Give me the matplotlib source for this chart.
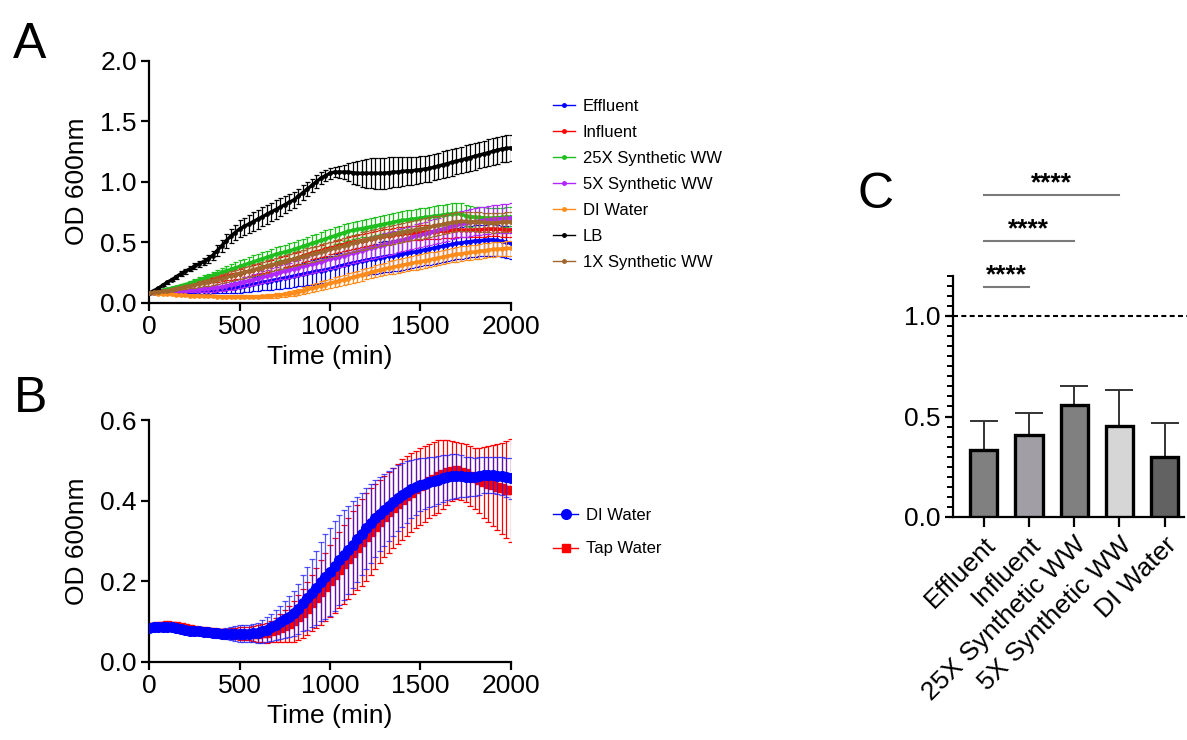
import numpy as np
import matplotlib
matplotlib.use("Agg")
import matplotlib.pyplot as plt
from matplotlib.lines import Line2D
from matplotlib.ticker import MultipleLocator

plt.rcParams['font.family'] = ['Liberation Sans', 'DejaVu Sans']

# ---- panel A / B: growth curves, read every 25 min ----
time_min = np.arange(0, 2001, 25)

lb_mean = [0.080, 0.100, 0.120, 0.145, 0.170, 0.190, 0.215, 0.240, 0.260,
           0.280, 0.300, 0.320, 0.340, 0.360, 0.390, 0.430, 0.470,
           0.510, 0.550, 0.580, 0.610, 0.630, 0.650, 0.670, 0.690,
           0.710, 0.730, 0.750, 0.770, 0.790, 0.810, 0.830, 0.850,
           0.880, 0.910, 0.940, 0.970, 1.000, 1.030, 1.050, 1.070,
           1.080, 1.080, 1.080, 1.080, 1.075, 1.070, 1.070, 1.070,
           1.070, 1.070, 1.070, 1.070, 1.075, 1.080, 1.080, 1.085,
           1.090, 1.090, 1.095, 1.100, 1.105, 1.110, 1.120, 1.130,
           1.140, 1.150, 1.160, 1.170, 1.180, 1.190, 1.200, 1.210,
           1.220, 1.230, 1.240, 1.250, 1.260, 1.270, 1.275, 1.280]
lb_sd = [0.005, 0.006, 0.008, 0.010, 0.012, 0.014, 0.016, 0.018, 0.020,
         0.022, 0.025, 0.028, 0.030, 0.035, 0.040, 0.045, 0.050,
         0.055, 0.060, 0.065, 0.070, 0.072, 0.075, 0.077, 0.080,
         0.080, 0.080, 0.078, 0.075, 0.072, 0.070, 0.067, 0.065,
         0.062, 0.060, 0.057, 0.055, 0.052, 0.050, 0.047, 0.045,
         0.045, 0.050, 0.060, 0.075, 0.090, 0.100, 0.110, 0.120,
         0.125, 0.130, 0.130, 0.130, 0.128, 0.125, 0.123, 0.120,
         0.118, 0.115, 0.113, 0.110, 0.110, 0.110, 0.110, 0.110,
         0.110, 0.110, 0.110, 0.110, 0.110, 0.110, 0.110, 0.110,
         0.110, 0.110, 0.110, 0.110, 0.110, 0.110, 0.110, 0.110]

effluent_mean = [0.080, 0.081, 0.082, 0.084, 0.085, 0.086, 0.087, 0.088, 0.090,
                 0.091, 0.092, 0.093, 0.095, 0.098, 0.102, 0.106, 0.110,
                 0.115, 0.120, 0.125, 0.130, 0.137, 0.145, 0.152, 0.160,
                 0.168, 0.175, 0.183, 0.190, 0.198, 0.205, 0.212, 0.220,
                 0.228, 0.235, 0.243, 0.250, 0.258, 0.265, 0.272, 0.280,
                 0.290, 0.300, 0.310, 0.320, 0.328, 0.335, 0.343, 0.350,
                 0.358, 0.365, 0.372, 0.380, 0.385, 0.390, 0.395, 0.400,
                 0.408, 0.415, 0.422, 0.430, 0.438, 0.445, 0.452, 0.460,
                 0.468, 0.475, 0.482, 0.490, 0.495, 0.500, 0.505, 0.510,
                 0.513, 0.515, 0.518, 0.520, 0.515, 0.508, 0.500, 0.490]
effluent_sd = [0.005, 0.006, 0.006, 0.007, 0.008, 0.008, 0.009, 0.009, 0.010,
               0.012, 0.015, 0.018, 0.020, 0.023, 0.025, 0.028, 0.030,
               0.035, 0.040, 0.045, 0.050, 0.052, 0.055, 0.058, 0.060,
               0.065, 0.070, 0.075, 0.080, 0.082, 0.085, 0.088, 0.090,
               0.092, 0.095, 0.098, 0.100, 0.102, 0.105, 0.108, 0.110,
               0.112, 0.113, 0.114, 0.115, 0.116, 0.117, 0.118, 0.120,
               0.122, 0.124, 0.126, 0.127, 0.128, 0.128, 0.129, 0.129,
               0.130, 0.130, 0.130, 0.130, 0.130, 0.130, 0.130, 0.130,
               0.130, 0.130, 0.130, 0.130, 0.130, 0.130, 0.130, 0.130,
               0.130, 0.130, 0.130, 0.130, 0.130, 0.130, 0.130, 0.130]

influent_mean = [0.080, 0.085, 0.090, 0.095, 0.100, 0.110, 0.120, 0.130, 0.140,
                 0.150, 0.160, 0.170, 0.180, 0.188, 0.195, 0.203, 0.210,
                 0.218, 0.225, 0.233, 0.240, 0.250, 0.260, 0.270, 0.280,
                 0.290, 0.300, 0.310, 0.320, 0.330, 0.340, 0.350, 0.360,
                 0.372, 0.385, 0.398, 0.410, 0.420, 0.430, 0.440, 0.450,
                 0.460, 0.470, 0.480, 0.490, 0.498, 0.505, 0.513, 0.520,
                 0.528, 0.535, 0.543, 0.550, 0.555, 0.560, 0.565, 0.570,
                 0.573, 0.575, 0.578, 0.580, 0.583, 0.585, 0.588, 0.590,
                 0.593, 0.595, 0.598, 0.600, 0.600, 0.600, 0.600, 0.600,
                 0.603, 0.605, 0.608, 0.610, 0.608, 0.605, 0.603, 0.600]
influent_sd = [0.005, 0.006, 0.006, 0.007, 0.008, 0.008, 0.009, 0.009, 0.010,
               0.013, 0.015, 0.018, 0.020, 0.023, 0.025, 0.028, 0.030,
               0.033, 0.035, 0.038, 0.040, 0.041, 0.042, 0.043, 0.043,
               0.044, 0.045, 0.046, 0.047, 0.048, 0.048, 0.049, 0.050,
               0.050, 0.050, 0.050, 0.050, 0.050, 0.050, 0.050, 0.050,
               0.051, 0.051, 0.052, 0.052, 0.053, 0.053, 0.054, 0.054,
               0.055, 0.055, 0.056, 0.056, 0.057, 0.057, 0.058, 0.058,
               0.059, 0.059, 0.060, 0.060, 0.060, 0.060, 0.060, 0.060,
               0.060, 0.060, 0.060, 0.060, 0.060, 0.060, 0.060, 0.060,
               0.060, 0.060, 0.060, 0.060, 0.060, 0.060, 0.060, 0.060]

syn25_mean = [0.080, 0.088, 0.095, 0.103, 0.110, 0.120, 0.130, 0.140, 0.150,
              0.163, 0.175, 0.188, 0.200, 0.213, 0.225, 0.238, 0.250,
              0.263, 0.275, 0.288, 0.300, 0.313, 0.325, 0.338, 0.350,
              0.363, 0.375, 0.388, 0.400, 0.410, 0.420, 0.430, 0.440,
              0.453, 0.465, 0.478, 0.490, 0.503, 0.515, 0.528, 0.540,
              0.553, 0.565, 0.578, 0.590, 0.598, 0.605, 0.613, 0.620,
              0.628, 0.635, 0.643, 0.650, 0.658, 0.665, 0.673, 0.680,
              0.685, 0.690, 0.695, 0.700, 0.705, 0.710, 0.715, 0.720,
              0.725, 0.730, 0.735, 0.738, 0.730, 0.720, 0.712, 0.708,
              0.705, 0.702, 0.700, 0.700, 0.702, 0.705, 0.708, 0.710]
syn25_sd = [0.005, 0.006, 0.007, 0.008, 0.009, 0.010, 0.012, 0.013, 0.015,
            0.018, 0.020, 0.023, 0.025, 0.028, 0.030, 0.033, 0.035,
            0.039, 0.043, 0.046, 0.050, 0.051, 0.052, 0.053, 0.054,
            0.055, 0.056, 0.057, 0.058, 0.059, 0.060, 0.061, 0.062,
            0.063, 0.064, 0.065, 0.066, 0.067, 0.068, 0.069, 0.070,
            0.070, 0.071, 0.071, 0.072, 0.072, 0.073, 0.073, 0.074,
            0.074, 0.075, 0.075, 0.076, 0.076, 0.077, 0.077, 0.078,
            0.078, 0.079, 0.079, 0.080, 0.081, 0.083, 0.084, 0.085,
            0.086, 0.087, 0.088, 0.090, 0.090, 0.089, 0.088, 0.087,
            0.086, 0.085, 0.084, 0.083, 0.082, 0.081, 0.080, 0.080]

syn5_mean = [0.080, 0.085, 0.090, 0.093, 0.095, 0.096, 0.097, 0.098, 0.100,
             0.102, 0.105, 0.107, 0.110, 0.115, 0.120, 0.125, 0.130,
             0.138, 0.145, 0.153, 0.160, 0.170, 0.180, 0.190, 0.200,
             0.210, 0.220, 0.230, 0.240, 0.250, 0.260, 0.270, 0.280,
             0.290, 0.300, 0.310, 0.320, 0.330, 0.340, 0.350, 0.360,
             0.370, 0.380, 0.390, 0.400, 0.410, 0.420, 0.430, 0.440,
             0.450, 0.460, 0.470, 0.480, 0.490, 0.500, 0.510, 0.520,
             0.530, 0.540, 0.550, 0.560, 0.570, 0.580, 0.590, 0.600,
             0.610, 0.620, 0.630, 0.640, 0.648, 0.655, 0.663, 0.670,
             0.675, 0.680, 0.685, 0.690, 0.693, 0.695, 0.698, 0.700]
syn5_sd = [0.005, 0.006, 0.006, 0.007, 0.008, 0.008, 0.009, 0.009, 0.010,
           0.013, 0.016, 0.019, 0.022, 0.025, 0.028, 0.031, 0.034,
           0.035, 0.037, 0.038, 0.040, 0.042, 0.044, 0.046, 0.048,
           0.050, 0.052, 0.054, 0.056, 0.058, 0.060, 0.062, 0.064,
           0.066, 0.068, 0.070, 0.072, 0.074, 0.076, 0.078, 0.080,
           0.081, 0.082, 0.083, 0.084, 0.085, 0.086, 0.087, 0.088,
           0.089, 0.090, 0.091, 0.092, 0.093, 0.094, 0.095, 0.096,
           0.097, 0.098, 0.099, 0.100, 0.101, 0.102, 0.103, 0.104,
           0.105, 0.106, 0.107, 0.108, 0.109, 0.110, 0.111, 0.112,
           0.113, 0.114, 0.115, 0.116, 0.117, 0.118, 0.119, 0.120]

diw_mean = [0.080, 0.078, 0.075, 0.072, 0.070, 0.068, 0.065, 0.062, 0.060,
            0.058, 0.057, 0.056, 0.055, 0.054, 0.052, 0.051, 0.050,
            0.050, 0.050, 0.050, 0.050, 0.050, 0.050, 0.050, 0.050,
            0.052, 0.054, 0.057, 0.060, 0.064, 0.068, 0.074, 0.080,
            0.090, 0.100, 0.110, 0.120, 0.130, 0.140, 0.150, 0.160,
            0.170, 0.180, 0.190, 0.200, 0.210, 0.220, 0.230, 0.240,
            0.250, 0.260, 0.270, 0.280, 0.288, 0.295, 0.303, 0.310,
            0.318, 0.325, 0.333, 0.340, 0.348, 0.355, 0.363, 0.370,
            0.378, 0.385, 0.393, 0.400, 0.405, 0.410, 0.415, 0.420,
            0.425, 0.430, 0.435, 0.440, 0.443, 0.445, 0.448, 0.450]
diw_sd = [0.005, 0.005, 0.005, 0.005, 0.006, 0.006, 0.006, 0.006, 0.007,
          0.007, 0.007, 0.007, 0.008, 0.008, 0.008, 0.008, 0.009,
          0.009, 0.009, 0.010, 0.010, 0.011, 0.012, 0.013, 0.014,
          0.015, 0.016, 0.017, 0.018, 0.019, 0.020, 0.022, 0.024,
          0.026, 0.028, 0.030, 0.032, 0.034, 0.036, 0.038, 0.040,
          0.041, 0.042, 0.043, 0.044, 0.045, 0.046, 0.047, 0.048,
          0.049, 0.050, 0.051, 0.052, 0.053, 0.054, 0.055, 0.056,
          0.057, 0.058, 0.059, 0.060, 0.060, 0.060, 0.060, 0.060,
          0.060, 0.060, 0.060, 0.060, 0.060, 0.060, 0.060, 0.060,
          0.060, 0.060, 0.060, 0.060, 0.060, 0.060, 0.060, 0.060]

syn1_mean = [0.080, 0.085, 0.090, 0.095, 0.100, 0.108, 0.115, 0.123, 0.130,
             0.138, 0.145, 0.153, 0.160, 0.170, 0.180, 0.190, 0.200,
             0.210, 0.220, 0.230, 0.240, 0.250, 0.260, 0.270, 0.280,
             0.290, 0.300, 0.310, 0.320, 0.330, 0.340, 0.350, 0.360,
             0.370, 0.380, 0.390, 0.400, 0.410, 0.420, 0.430, 0.440,
             0.450, 0.460, 0.470, 0.480, 0.490, 0.500, 0.510, 0.520,
             0.528, 0.535, 0.543, 0.550, 0.558, 0.565, 0.573, 0.580,
             0.588, 0.595, 0.603, 0.610, 0.618, 0.625, 0.633, 0.640,
             0.648, 0.655, 0.663, 0.670, 0.672, 0.672, 0.670, 0.670,
             0.667, 0.665, 0.662, 0.660, 0.662, 0.665, 0.668, 0.670]
syn1_sd = [0.005, 0.006, 0.007, 0.008, 0.009, 0.010, 0.012, 0.013, 0.015,
           0.018, 0.020, 0.023, 0.025, 0.028, 0.030, 0.033, 0.035,
           0.038, 0.040, 0.043, 0.045, 0.046, 0.047, 0.048, 0.049,
           0.050, 0.051, 0.052, 0.053, 0.054, 0.055, 0.056, 0.057,
           0.058, 0.059, 0.060, 0.061, 0.062, 0.063, 0.064, 0.065,
           0.066, 0.067, 0.068, 0.069, 0.070, 0.071, 0.072, 0.073,
           0.074, 0.075, 0.076, 0.077, 0.078, 0.079, 0.080, 0.080,
           0.080, 0.080, 0.080, 0.080, 0.080, 0.080, 0.080, 0.080,
           0.080, 0.080, 0.080, 0.080, 0.080, 0.080, 0.080, 0.080,
           0.080, 0.080, 0.080, 0.080, 0.080, 0.080, 0.080, 0.080]

# panel B
di_b_mean = [0.084, 0.085, 0.085, 0.086, 0.086, 0.085, 0.083, 0.081, 0.079,
             0.077, 0.076, 0.075, 0.074, 0.073, 0.072, 0.071, 0.070,
             0.070, 0.070, 0.070, 0.070, 0.070, 0.070, 0.071, 0.072,
             0.075, 0.079, 0.085, 0.091, 0.098, 0.105, 0.112, 0.120,
             0.132, 0.145, 0.157, 0.170, 0.184, 0.199, 0.211, 0.223,
             0.238, 0.252, 0.265, 0.277, 0.290, 0.304, 0.318, 0.331,
             0.344, 0.356, 0.367, 0.377, 0.387, 0.397, 0.406, 0.414,
             0.421, 0.428, 0.434, 0.439, 0.442, 0.445, 0.448, 0.451,
             0.455, 0.458, 0.460, 0.461, 0.460, 0.459, 0.459, 0.459,
             0.461, 0.463, 0.463, 0.463, 0.462, 0.461, 0.458, 0.455]
di_b_sd = [0.005, 0.005, 0.005, 0.005, 0.005, 0.006, 0.006, 0.007, 0.007,
           0.008, 0.008, 0.008, 0.008, 0.009, 0.010, 0.011, 0.012,
           0.014, 0.016, 0.018, 0.020, 0.021, 0.022, 0.023, 0.025,
           0.028, 0.031, 0.034, 0.037, 0.041, 0.046, 0.050, 0.055,
           0.062, 0.070, 0.078, 0.085, 0.092, 0.099, 0.105, 0.110,
           0.111, 0.112, 0.111, 0.110, 0.108, 0.105, 0.102, 0.100,
           0.098, 0.095, 0.092, 0.090, 0.087, 0.085, 0.082, 0.080,
           0.076, 0.072, 0.069, 0.066, 0.064, 0.062, 0.061, 0.060,
           0.058, 0.056, 0.055, 0.054, 0.052, 0.050, 0.048, 0.047,
           0.046, 0.045, 0.045, 0.045, 0.046, 0.047, 0.048, 0.050]
tap_b_mean = [0.085, 0.086, 0.088, 0.089, 0.090, 0.089, 0.088, 0.086, 0.083,
              0.080, 0.078, 0.076, 0.075, 0.074, 0.073, 0.072, 0.072,
              0.071, 0.071, 0.070, 0.070, 0.070, 0.070, 0.070, 0.070,
              0.071, 0.072, 0.075, 0.078, 0.083, 0.088, 0.094, 0.100,
              0.110, 0.120, 0.132, 0.145, 0.158, 0.172, 0.186, 0.200,
              0.214, 0.228, 0.242, 0.256, 0.270, 0.283, 0.297, 0.310,
              0.323, 0.335, 0.348, 0.360, 0.371, 0.382, 0.392, 0.402,
              0.411, 0.420, 0.428, 0.435, 0.442, 0.448, 0.454, 0.460,
              0.465, 0.470, 0.473, 0.475, 0.472, 0.468, 0.461, 0.455,
              0.450, 0.445, 0.441, 0.438, 0.434, 0.430, 0.427, 0.425]
tap_b_sd = [0.005, 0.005, 0.005, 0.005, 0.005, 0.005, 0.006, 0.006, 0.006,
            0.007, 0.007, 0.008, 0.008, 0.009, 0.009, 0.010, 0.010,
            0.011, 0.012, 0.014, 0.015, 0.016, 0.017, 0.018, 0.020,
            0.022, 0.025, 0.027, 0.030, 0.035, 0.040, 0.045, 0.050,
            0.055, 0.060, 0.065, 0.070, 0.075, 0.080, 0.085, 0.090,
            0.093, 0.095, 0.098, 0.100, 0.103, 0.105, 0.108, 0.110,
            0.108, 0.105, 0.103, 0.100, 0.100, 0.100, 0.100, 0.100,
            0.099, 0.097, 0.096, 0.095, 0.094, 0.092, 0.091, 0.090,
            0.085, 0.080, 0.075, 0.070, 0.071, 0.072, 0.074, 0.075,
            0.081, 0.088, 0.094, 0.100, 0.107, 0.113, 0.120, 0.127]

# panel C
groups = ["Effluent", "Influent", "25X Synthetic WW", "5X Synthetic WW", "DI Water"]
ratio_mean = [0.335, 0.410, 0.555, 0.455, 0.300]
ratio_sd = [0.143, 0.106, 0.097, 0.177, 0.166]
bar_colors = ["#808080", "#a19fa5", "#808080", "#d6d6d6", "#626262"]
sig_pairs = [(0, 1), (0, 2), (0, 3)]
sig_heights = [1.144, 1.373, 1.602]

W, H = 1187, 740
fig = plt.figure(figsize=(W / 100, H / 100), dpi=100)


def px_axes(x0, y0, x1, y1):
    return fig.add_axes([x0 / W, 1 - y1 / H, (x1 - x0) / W, (y1 - y0) / H])


def style(ax):
    for s in ["top", "right"]:
        ax.spines[s].set_visible(False)
    for s in ["left", "bottom"]:
        ax.spines[s].set_linewidth(1.6)
    ax.tick_params(width=1.6, length=6, labelsize=19, pad=3)


axA = px_axes(149.3, 60.7, 510.7, 302.7)
axB = px_axes(149.3, 420.0, 510.7, 661.7)
axC = px_axes(953, 275.8, 1184, 517)

# ---- A ----
series_a = [
    ("Effluent", effluent_mean, effluent_sd, "#0000ff"),
    ("Influent", influent_mean, influent_sd, "#ff0000"),
    ("25X Synthetic WW", syn25_mean, syn25_sd, "#1fbf1f"),
    ("5X Synthetic WW", syn5_mean, syn5_sd, "#b026ff"),
    ("DI Water", diw_mean, diw_sd, "#ff8c1a"),
    ("LB", lb_mean, lb_sd, "#000000"),
    ("1X Synthetic WW", syn1_mean, syn1_sd, "#a0662d"),
]
draw_order = [6, 4, 3, 2, 1, 0, 5]
for i in draw_order:
    name, m, sd, c = series_a[i]
    axA.errorbar(time_min, m, yerr=sd, color=c, lw=2.4, marker="o", ms=2.4,
                 elinewidth=0.9, capsize=1.8, capthick=0.9, zorder=2 + i * 0.1)

axA.set_xlim(0, 2000)
axA.set_ylim(0, 2.0)
axA.set_xticks([0, 500, 1000, 1500, 2000])
axA.set_yticks([0, 0.5, 1.0, 1.5, 2.0])
axA.set_yticklabels(["0.0", "0.5", "1.0", "1.5", "2.0"])
axA.set_xlabel("Time (min)", fontsize=19, labelpad=4)
axA.set_ylabel("OD 600nm", fontsize=19, labelpad=8)
style(axA)

handles_a = [Line2D([], [], color=c, lw=1, marker="o", ms=2.5) for _, _, _, c in series_a]
fig.legend(handles_a, [s[0] for s in series_a], loc="upper left",
           bbox_to_anchor=(553 / W, 1 - 99 / H), frameon=False, fontsize=12,
           handlelength=1.3, handletextpad=0.5, labelspacing=0.66,
           borderpad=0, borderaxespad=0)

# ---- B ----
axB.errorbar(time_min, tap_b_mean, yerr=tap_b_sd, color="#ff0000", lw=2, marker="s",
             ms=5.5, elinewidth=0.9, capsize=2.5, capthick=0.9, zorder=2)
axB.errorbar(time_min, di_b_mean, yerr=di_b_sd, color="#0000ff", lw=2, marker="o",
             ms=7, elinewidth=0.9, capsize=2.5, capthick=0.9, zorder=3,
             ecolor=(0.1, 0.1, 1.0, 0.75))
axB.set_xlim(0, 2000)
axB.set_ylim(0, 0.6)
axB.set_xticks([0, 500, 1000, 1500, 2000])
axB.set_yticks([0, 0.2, 0.4, 0.6])
axB.set_yticklabels(["0.0", "0.2", "0.4", "0.6"])
axB.set_xlabel("Time (min)", fontsize=19, labelpad=4)
axB.set_ylabel("OD 600nm", fontsize=19, labelpad=8)
style(axB)

handles_b = [Line2D([], [], color="#0000ff", lw=1, marker="o", ms=7),
             Line2D([], [], color="#ff0000", lw=1, marker="s", ms=6)]
fig.legend(handles_b, ["DI Water", "Tap Water"], loc="upper left",
           bbox_to_anchor=(553 / W, 1 - 507.5 / H), frameon=False, fontsize=12,
           handlelength=1.5, handletextpad=0.5, labelspacing=1.14,
           borderpad=0, borderaxespad=0)

# ---- C ----
xpos = np.arange(len(groups))
axC.bar(xpos, ratio_mean, width=0.6, color=bar_colors, edgecolor="black",
        linewidth=2.4, zorder=3)
axC.errorbar(xpos, ratio_mean, yerr=[np.zeros(len(groups)), ratio_sd], fmt="none",
             ecolor="#333333", elinewidth=1.4, capsize=10, capthick=1.4, zorder=2)
axC.plot([-0.68, 4.5], [1.0, 1.0], color="black", lw=1.5, ls=(0, (2.4, 1.6)),
         clip_on=False, zorder=1)
axC.set_xlim(-0.68, 4.43)
axC.set_ylim(0, 1.2)
axC.set_yticks([0, 0.5, 1.0])
axC.set_yticklabels(["0.0", "0.5", "1.0"])
axC.yaxis.set_minor_locator(MultipleLocator(0.05))
axC.set_xticks(xpos)
axC.set_xticklabels(groups, rotation=45, ha="right", rotation_mode="anchor")
style(axC)
axC.tick_params(axis="y", which="minor", length=4, width=1.4)
axC.tick_params(axis="x", length=7, pad=4, labelsize=19)

for (a, b), h in zip(sig_pairs, sig_heights):
    axC.plot([a, b], [h, h], color="#7a7a7a", lw=1.5, clip_on=False)
    axC.text((a + b) / 2, h + 0.06, "****", ha="center", va="center",
             fontsize=19, fontweight="bold", clip_on=False)

# panel letters
fig.text(13 / W, 1 - 58 / H, "A", fontsize=36, ha="left", va="baseline")
fig.text(14 / W, 1 - 412 / H, "B", fontsize=36, ha="left", va="baseline")
fig.text(857 / W, 1 - 208 / H, "C", fontsize=36, ha="left", va="baseline")

fig.savefig("out.png", dpi=100)
